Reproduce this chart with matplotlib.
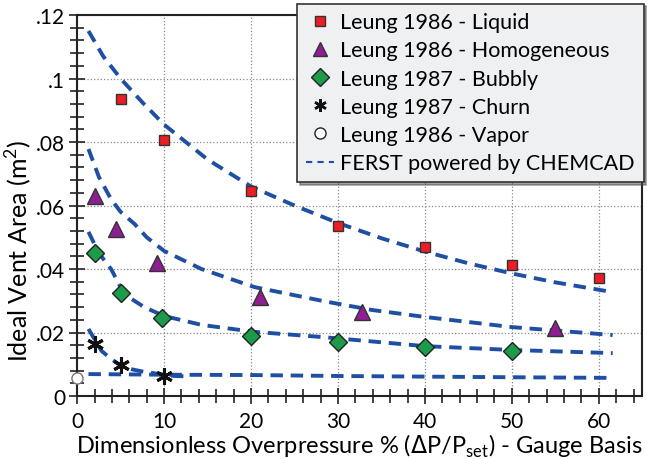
import numpy as np
import matplotlib
matplotlib.use('Agg')
import matplotlib.pyplot as plt
from matplotlib.lines import Line2D

plt.rcParams['font.family'] = ['Lato', 'DejaVu Sans']

# measured data
liq_x = [5, 10, 20, 30, 40, 50, 60]
liq_y = [0.0935, 0.0806, 0.0646, 0.0535, 0.0469, 0.0413, 0.0372]
hom_x = [2, 4.5, 9.2, 21, 32.8, 55]
hom_y = [0.063, 0.0526, 0.042, 0.0312, 0.0264, 0.0214]
bub_x = [2, 5, 9.8, 20, 30, 40, 50]
bub_y = [0.045, 0.0325, 0.0246, 0.0189, 0.017, 0.0154, 0.0142]
churn_x = [2, 5, 10]
churn_y = [0.0164, 0.0098, 0.0063]
vap_x = [0]
vap_y = [0.0058]

# FERST curves
f1_x = [1.3, 3, 5, 7.5, 10, 15, 20, 25, 30, 35, 40, 45, 50, 55, 61]
f1_y = [0.115, 0.107, 0.100, 0.0925, 0.0855, 0.0745, 0.066, 0.060, 0.0545, 0.0497, 0.0455, 0.0418, 0.0386, 0.0358, 0.033]
f2_x = [1.3, 2.5, 3.9, 5, 6.6, 8, 10, 14.3, 20.4, 28.5, 33.9, 40, 50, 61.6]
f2_y = [0.0778, 0.069, 0.062, 0.058, 0.0542, 0.050, 0.0457, 0.040, 0.0343, 0.0298, 0.0271, 0.0249, 0.0217, 0.0192]
f3_x = [1.3, 2.5, 3.9, 5.1, 6.3, 7.7, 10, 14.3, 20.4, 28.5, 40, 50, 61.6]
f3_y = [0.0517, 0.045, 0.040, 0.0337, 0.0305, 0.028, 0.0252, 0.0224, 0.0202, 0.0185, 0.0157, 0.0145, 0.0135]
f4_x = [1.3, 2.8, 4, 5.1, 6.3, 7.7, 9.5, 11.2, 12.5]
f4_y = [0.0211, 0.0142, 0.0115, 0.0094, 0.0084, 0.0076, 0.0069, 0.0063, 0.0062]
f5_x = [1.3, 10, 20, 30, 40, 50, 61.6]
f5_y = [0.0069, 0.0067, 0.0066, 0.0063, 0.0061, 0.0059, 0.0057]

blue = '#1f4fa3'

fig = plt.figure(figsize=(6.54, 4.6), dpi=100)
ax = fig.add_axes([0.118, 0.137, 0.864, 0.828])

for fx, fy in [(f1_x, f1_y), (f2_x, f2_y), (f3_x, f3_y), (f4_x, f4_y), (f5_x, f5_y)]:
    ax.plot(fx, fy, color=blue, lw=2.8, ls=(0, (3.2, 2.0)), zorder=2)

ax.plot(liq_x, liq_y, 's', ms=7.5, mfc='#ee1c24', mec='#333333', mew=1, ls='none', zorder=3)
ax.plot(hom_x, hom_y, '^', ms=11, mfc='#8e1f91', mec='#333333', mew=1, ls='none', zorder=3)
ax.plot(bub_x, bub_y, 'D', ms=9, mfc='#1c9b48', mec='#222222', mew=1, ls='none', zorder=3)
ax.plot(churn_x, churn_y, marker=(6, 2, 0), ms=12, color='#111111', mew=2.2, ls='none', zorder=3)
ax.plot(vap_x, vap_y, 'o', ms=8, mfc='white', mec='#777777', mew=1, ls='none', zorder=3, clip_on=False)

ax.set_xlim(0, 65)
ax.set_ylim(0, 0.12)
ax.set_xticks([0, 10, 20, 30, 40, 50, 60])
ax.set_xticks(np.arange(0, 66, 2), minor=True)
ax.set_yticks([0, 0.02, 0.04, 0.06, 0.08, 0.1, 0.12])
ax.set_yticklabels(['0', '.02', '.04', '.06', '.08', '.1', '.12'])
ax.set_yticks(np.arange(0, 0.1201, 0.004), minor=True)
ax.tick_params(which='both', direction='inout', width=1.2, labelsize=15, color='#222222')
ax.tick_params(which='major', length=11)
ax.tick_params(which='minor', length=10)
ax.tick_params(axis='x', pad=5)
ax.tick_params(axis='y', pad=3)
ax.grid(True, which='major', ls=':', color='#888888', lw=0.9)
for s in ax.spines.values():
    s.set_linewidth(1.5)
    s.set_color('#222222')

ax.set_xlabel(r'Dimensionless Overpressure % ($\Delta$P/P$_{\mathregular{set}}$) - Gauge Basis', fontsize=17, labelpad=1)
ax.set_ylabel('Ideal Vent Area (m$^{\\mathregular{2}}$)', fontsize=18)
ax.yaxis.set_label_coords(-0.077, 0.385)

handles = [
    Line2D([], [], marker='s', ms=7, mfc='#ee1c24', mec='#333333', ls='none'),
    Line2D([], [], marker='^', ms=10, mfc='#8e1f91', mec='#333333', ls='none'),
    Line2D([], [], marker='D', ms=9, mfc='#1c9b48', mec='#222222', ls='none'),
    Line2D([], [], marker=(6, 2, 0), ms=9, color='#111111', mew=1.8, ls='none'),
    Line2D([], [], marker='o', ms=8, mfc='white', mec='#222222', ls='none'),
    Line2D([], [], color=blue, lw=1.5, ls=(0, (3, 2.5))),
]
labels = ['Leung 1986 - Liquid', 'Leung 1986 - Homogeneous', 'Leung 1987 - Bubbly',
          'Leung 1987 - Churn', 'Leung 1986 - Vapor', 'FERST powered by CHEMCAD']
leg = fig.legend(handles, labels, loc='upper right', bbox_to_anchor=(0.984, 0.99),
                 fontsize=15.5, frameon=True, fancybox=False, shadow=True,
                 handlelength=1.3, handletextpad=0.3, labelspacing=0.38,
                 borderpad=0.4, borderaxespad=0)
leg.get_frame().set_facecolor('#eef0f2')
leg.get_frame().set_edgecolor('#333333')
leg.get_frame().set_linewidth(1.2)
leg.get_frame().set_alpha(1)

fig.savefig('out.png', dpi=100)
